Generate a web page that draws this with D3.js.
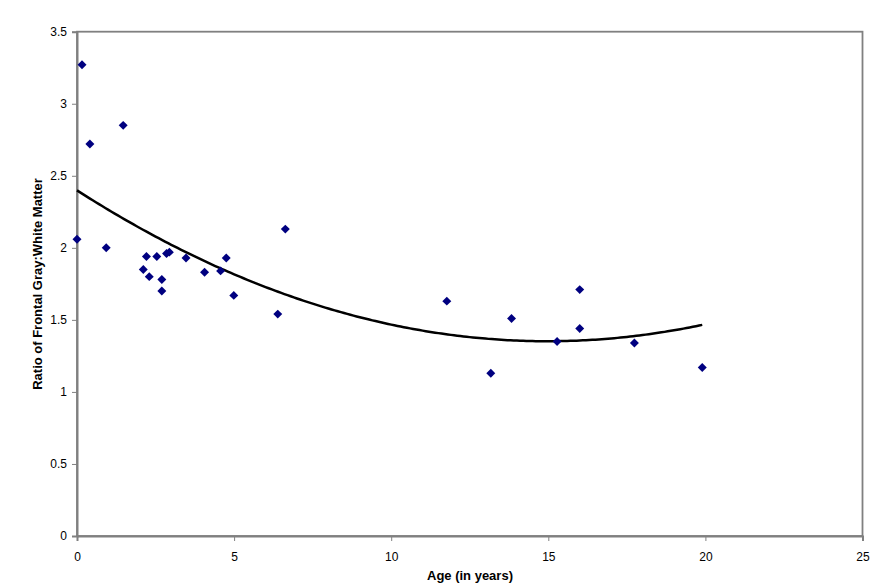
<!DOCTYPE html>
<html><head><meta charset="utf-8">
<script src="https://cdn.jsdelivr.net/npm/d3@7"></script>
<style>body{margin:0;background:#fff}svg{display:block}text{font-family:"Liberation Sans",Arial,sans-serif}</style>
</head><body>
<svg id="c" width="890" height="588"></svg>
<script>
const ages = [0.0,0.16,0.41,0.93,1.47,2.11,2.21,2.30,2.54,2.70,2.70,2.85,2.94,3.47,4.06,4.57,4.75,4.99,6.39,6.63,11.77,13.17,13.83,15.28,16.0,16.0,17.74,19.9];
const ratios = [2.06,3.27,2.72,2.00,2.85,1.85,1.94,1.80,1.94,1.78,1.70,1.96,1.97,1.93,1.83,1.84,1.93,1.67,1.54,2.13,1.63,1.13,1.51,1.35,1.71,1.44,1.34,1.17];
const xTicks = [0,5,10,15,20,25];
const yTicks = [0,0.5,1,1.5,2,2.5,3,3.5];
const xTitle = "Age (in years)";
const yTitle = "Ratio of Frontal Gray:White Matter";

// quadratic least squares trendline
function polyfit2(xs, ys){
  let S=[0,0,0,0,0], T=[0,0,0];
  xs.forEach((x,i)=>{for(let k=0;k<5;k++)S[k]+=Math.pow(x,k);for(let k=0;k<3;k++)T[k]+=ys[i]*Math.pow(x,k);});
  const A=[[S[0],S[1],S[2],T[0]],[S[1],S[2],S[3],T[1]],[S[2],S[3],S[4],T[2]]];
  for(let i=0;i<3;i++){for(let j=i+1;j<3;j++){const f=A[j][i]/A[i][i];for(let k=i;k<4;k++)A[j][k]-=f*A[i][k];}}
  const c=[0,0,0];
  for(let i=2;i>=0;i--){let s=A[i][3];for(let k=i+1;k<3;k++)s-=A[i][k]*c[k];c[i]=s/A[i][i];}
  return c;
}
const coef = polyfit2(ages, ratios);

const svg = d3.select("#c");
const L=77, R=862.5, T=31.7, B=536;
const x = d3.scaleLinear().domain([0,25]).range([L,R]);
const y = d3.scaleLinear().domain([0,3.5]).range([B,T]);

// frame
svg.append("rect").attr("x",L).attr("y",T).attr("width",R-L).attr("height",B-T)
  .attr("fill","#fff").attr("stroke","#808080").attr("stroke-width",1.8);

const xa = svg.append("g").attr("transform",`translate(0,${B})`)
  .call(d3.axisBottom(x).tickValues(xTicks).tickSize(5).tickPadding(11).tickFormat(d3.format("d")));
const ya = svg.append("g").attr("transform",`translate(${L},0)`)
  .call(d3.axisLeft(y).tickValues(yTicks).tickSize(5).tickPadding(5).tickFormat(d=>String(d)));
[xa,ya].forEach(g=>{
  g.select(".domain").attr("stroke","#808080").attr("stroke-width",2);
  g.selectAll(".tick line").attr("stroke","#808080");
  g.selectAll("text").attr("font-size",12).attr("fill","#000").attr("font-family","Liberation Sans, Arial, sans-serif");
});

// trendline
const xs = d3.range(0, 19.9001, 0.1);
svg.append("path").datum(xs)
  .attr("d", d3.line().x(d=>x(d)).y(d=>y(coef[0]+coef[1]*d+coef[2]*d*d)))
  .attr("fill","none").attr("stroke","#000").attr("stroke-width",2.5);

// points
svg.append("g").selectAll("path").data(ages.map((a,i)=>[a,ratios[i]])).join("path")
  .attr("transform",d=>`translate(${x(d[0])},${y(d[1])}) rotate(45)`)
  .attr("d", d3.symbol().type(d3.symbolSquare).size(40))
  .attr("fill","#000080");

svg.append("text").attr("x",470).attr("y",580).attr("text-anchor","middle")
  .attr("font-size",13).attr("font-weight","bold").text(xTitle);
svg.append("text").attr("transform","translate(42,284) rotate(-90)").attr("text-anchor","middle")
  .attr("font-size",13).attr("font-weight","bold").text(yTitle);
</script>
</body></html>
